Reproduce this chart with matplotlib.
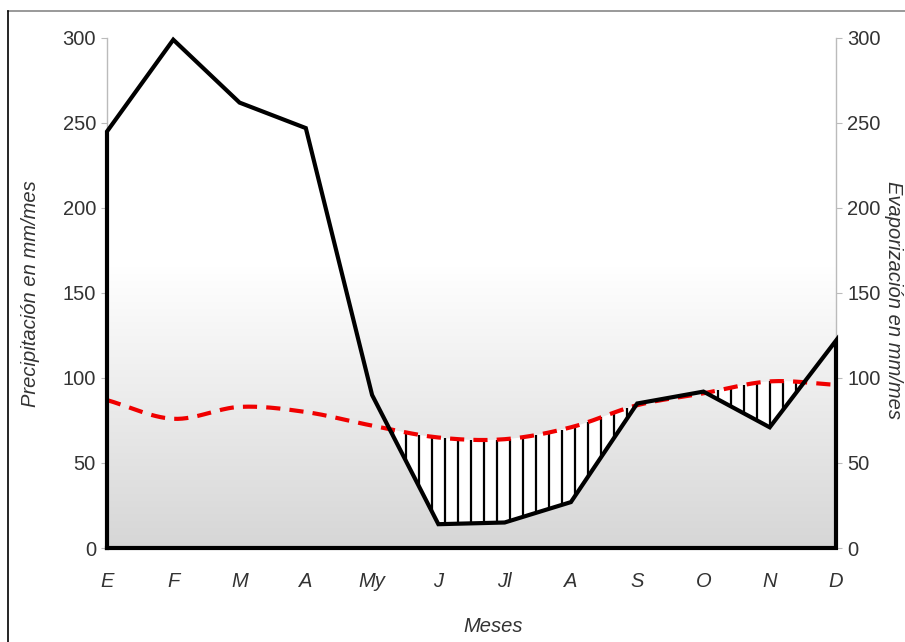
import numpy as np
import matplotlib
matplotlib.use("Agg")
import matplotlib.pyplot as plt
from matplotlib.lines import Line2D

months = ["E", "F", "M", "A", "My", "J", "Jl", "A", "S", "O", "N", "D"]
precipitacion = [245, 299, 262, 247, 90, 14, 15, 27, 85, 92, 71, 122]
evaporacion = [87, 76, 83, 80, 72, 65, 64, 71, 84, 91, 98, 96]
yticks = [0, 50, 100, 150, 200, 250, 300]

plt.rcParams['font.family'] = ['Liberation Sans', 'DejaVu Sans']

fig = plt.figure(figsize=(9.05, 6.42), dpi=100)
ax = fig.add_axes([107/905, 1-548/642, 729/905, 510/642])

x = np.arange(len(months))
prec = np.array(precipitacion, float)
evap = np.array(evaporacion, float)

# gradient background
vals = np.linspace(300, 0, 300)
t = np.clip((165 - vals) / 165, 0, 1)
col = 1 - 0.16 * t
img = np.dstack([col, col, col]).reshape(300, 1, 3)
ax.imshow(img, extent=[0, 11, 0, 300], aspect='auto', zorder=0, interpolation='bilinear')

# smooth (Catmull-Rom) rendering of evaporation curve
def catmull(xs, ys, n=30):
    px = np.r_[2*xs[0]-xs[1], xs, 2*xs[-1]-xs[-2]]
    py = np.r_[2*ys[0]-ys[1], ys, 2*ys[-1]-ys[-2]]
    ox, oy = [], []
    for i in range(1, len(px)-2):
        s = np.linspace(0, 1, n, endpoint=False)
        for P, out in ((px, ox), (py, oy)):
            p0, p1, p2, p3 = P[i-1], P[i], P[i+1], P[i+2]
            out.extend(0.5*((2*p1) + (-p0+p2)*s + (2*p0-5*p1+4*p2-p3)*s**2 + (-p0+3*p1-3*p2+p3)*s**3))
    ox.append(xs[-1]); oy.append(ys[-1])
    return np.array(ox), np.array(oy)

ex, ey = catmull(x.astype(float), evap)
py_fine = np.interp(ex, x, prec)

# white fill where evaporation exceeds precipitation
ax.fill_between(ex, py_fine, ey, where=ey > py_fine, facecolor='white',
                edgecolor='none', zorder=1, interpolate=True)

# vertical hatching
hx = 4.51 + 0.196 * np.arange(-30, 40)
hx = hx[(hx > 0) & (hx < 11)]
htop = np.interp(hx, ex, ey)
hbot = np.interp(hx, x, prec)
m = htop > hbot + 1
ax.vlines(hx[m], hbot[m], htop[m], colors='black', linewidth=1.6, zorder=2)

# precipitation outline
ax.plot(np.r_[0, x, 11, 0], np.r_[0, prec, 0, 0], color='black', lw=3.0,
        solid_joinstyle='miter', zorder=4, clip_on=False)

# evaporation dashed line
ax.plot(ex, ey, color='#f00000', lw=3.0, linestyle=(0, (3.4, 2.2)), zorder=3, clip_on=False)

ax.set_xlim(0, 11)
ax.set_ylim(0, 300)
ax.set_xticks(x)
ax.set_xticklabels(months, fontsize=14.5, style='italic', color='#333333')
ax.tick_params(axis='x', length=0, pad=17)
ax.set_yticks(yticks)
ax.tick_params(axis='y', which='both', left=True, right=True, labelleft=True,
               labelright=True, length=4, color='#bbbbbb', labelsize=14.5,
               labelcolor='#333333', pad=4)
for s in ['top', 'bottom']:
    ax.spines[s].set_visible(False)
for s in ['left', 'right']:
    ax.spines[s].set_color('#bbbbbb')
    ax.spines[s].set_linewidth(1)

fig.text(30/905, 1-294/642, "Precipitación en mm/mes", rotation=90, fontsize=14.5,
         style='italic', color='#333333', ha='center', va='center')
fig.text(893/905, 1-300/642, "Evaporización en mm/mes", rotation=270, fontsize=14.5,
         style='italic', color='#333333', ha='center', va='center')
fig.text(493/905, 1-626/642, "Meses", fontsize=14.5, style='italic',
         color='#333333', ha='center', va='center')

# outer frame lines
fig.add_artist(Line2D([8/905, 1], [1-11/642, 1-11/642], color='#888888', lw=1.2))
fig.add_artist(Line2D([8/905, 8/905], [0, 1-11/642], color='black', lw=1.2))

fig.savefig("out.png", dpi=100)
